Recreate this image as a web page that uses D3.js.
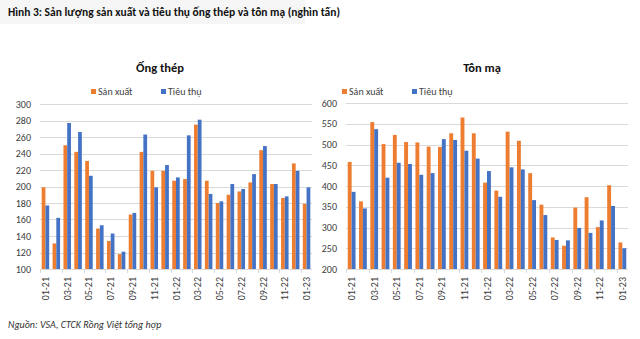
<!DOCTYPE html>
<head>
<meta charset="utf-8">
<style>
body { margin: 0; background: #fff; }
svg { display: block; font-family: Carlito, "Liberation Sans Narrow", "Open Sans", Arial, sans-serif; }
.grid line { stroke: #d9d9d9; stroke-width: 1; }
.ytick { font-size: 10px; fill: #404040; }
.xtick { font-size: 10px; fill: #404040; }
.legend { font-size: 10px; fill: #404040; }
.ptitle { font-size: 12.5px; font-weight: bold; fill: #111; }
</style>
</head>
<body>
<svg width="640" height="339"></svg>
<script src="https://d3js.org/d3.v7.min.js"></script>
<script>

var months = ["01-21","02-21","03-21","04-21","05-21","06-21","07-21","08-21","09-21","10-21","11-21","12-21",
              "01-22","02-22","03-22","04-22","05-22","06-22","07-22","08-22","09-22","10-22","11-22","12-22","01-23"];

// Ống thép
var ongSanXuat = [199,131,250,242,231,149,134,118,166,242,219,219,207,209,275,207,180,190,194,205,244,203,186,228,179];
var ongTieuThu = [177,162,277,266,213,153,143,121,168,263,199,226,211,262,281,191,182,203,197,215,249,203,188,219,199];
var ongTicks = [100,120,140,160,180,200,220,240,260,280,300];

// Tôn mạ
var tonSanXuat = [458,363,554,501,523,506,505,495,494,527,565,527,408,389,531,509,431,355,276,256,348,373,301,402,264];
var tonTieuThu = [386,346,537,420,456,453,427,431,513,511,485,466,436,374,445,440,366,330,270,269,299,287,317,352,250];
var tonTicks = [200,250,300,350,400,450,500,550,600];

var colSX = "#ed7d31", colTT = "#4472c4";

var svg = d3.select("svg");

// header strip
svg.append("rect").attr("x", 0).attr("y", 0).attr("width", 305).attr("height", 24).attr("fill", "#f6f6f6");
svg.append("text").attr("x", 8).attr("y", 16)
    .style("font-size", "11.5px").style("font-weight", "bold").style("fill", "#111")
    .text("Hình 3: Sản lượng sản xuất và tiêu thụ ống thép và tôn mạ (nghìn tấn)");

svg.append("text").attr("x", 8).attr("y", 328)
    .style("font-size", "10px").style("font-style", "italic").style("fill", "#333")
    .text("Nguồn: VSA, CTCK Rồng Việt tổng hợp");

function panel(opt) {
  var x = d3.scaleBand().domain(months).range([opt.x0, opt.x1]);
  var y = d3.scaleLinear().domain(opt.domain).range([269, opt.top]);
  var inner = d3.scaleBand().domain(["sx","tt"]).range([0, x.bandwidth()]).paddingInner(0).paddingOuter(0.45);

  var g = svg.append("g");

  g.append("text").attr("class", "ptitle").attr("x", opt.cx).attr("y", 72)
      .attr("text-anchor", "middle").text(opt.title);

  // legend
  var lg = g.append("g").attr("class", "legend");
  [["Sản xuất", colSX, opt.lx], ["Tiêu thụ", colTT, opt.lx + 70]].forEach(function(d) {
    lg.append("rect").attr("x", d[2]).attr("y", 89).attr("width", 5).attr("height", 5).attr("fill", d[1]);
    lg.append("text").attr("x", d[2] + 7).attr("y", 95).text(d[0]);
  });

  // grid
  g.append("g").attr("class", "grid")
    .selectAll("line").data(opt.ticks.slice(1)).enter().append("line")
      .attr("x1", opt.x0).attr("x2", opt.x1)
      .attr("y1", function(d) { return Math.round(y(d)) + 0.5; })
      .attr("y2", function(d) { return Math.round(y(d)) + 0.5; });

  g.selectAll(".ytick").data(opt.ticks).enter().append("text")
      .attr("class", "ytick")
      .attr("x", opt.x0 - 9).attr("y", function(d) { return y(d) + 3.5; })
      .attr("text-anchor", "end").text(function(d) { return d; });

  // bars
  g.selectAll(".sx").data(opt.sx).enter().append("rect")
      .attr("fill", colSX)
      .attr("x", function(d, i) { return x(months[i]) + inner("sx"); })
      .attr("width", inner.bandwidth())
      .attr("y", function(d) { return y(d); })
      .attr("height", function(d) { return y(opt.domain[0]) - y(d); });
  g.selectAll(".tt").data(opt.tt).enter().append("rect")
      .attr("fill", colTT)
      .attr("x", function(d, i) { return x(months[i]) + inner("tt"); })
      .attr("width", inner.bandwidth())
      .attr("y", function(d) { return y(d); })
      .attr("height", function(d) { return y(opt.domain[0]) - y(d); });

  // x axis
  g.append("line").attr("x1", opt.x0).attr("x2", opt.x1).attr("y1", 269.5).attr("y2", 269.5)
      .attr("stroke", "#d9d9d9");
  var tickIdx = d3.range(0, months.length + 1, 2);
  g.selectAll(".xt").data(tickIdx).enter().append("line")
      .attr("x1", function(i) { return Math.round(opt.x0 + i * x.step()) + 0.5; })
      .attr("x2", function(i) { return Math.round(opt.x0 + i * x.step()) + 0.5; })
      .attr("y1", 269).attr("y2", 273).attr("stroke", "#d9d9d9");

  g.selectAll(".xtick").data(months.filter(function(d, i) { return i % 2 === 0; })).enter().append("text")
      .attr("class", "xtick")
      .attr("text-anchor", "end")
      .attr("transform", function(d) { return "translate(" + (x(d) + x.bandwidth() / 2 + 3.5) + ",277) rotate(-90)"; })
      .text(function(d) { return d; });
}

panel({ x0: 40, x1: 312, top: 104, domain: [100, 300], ticks: ongTicks, sx: ongSanXuat, tt: ongTieuThu,
        title: "Ống thép", cx: 160, lx: 91 });
panel({ x0: 346, x1: 628, top: 103, domain: [200, 600], ticks: tonTicks, sx: tonSanXuat, tt: tonTieuThu,
        title: "Tôn mạ", cx: 482, lx: 342 });

</script>
</body>
